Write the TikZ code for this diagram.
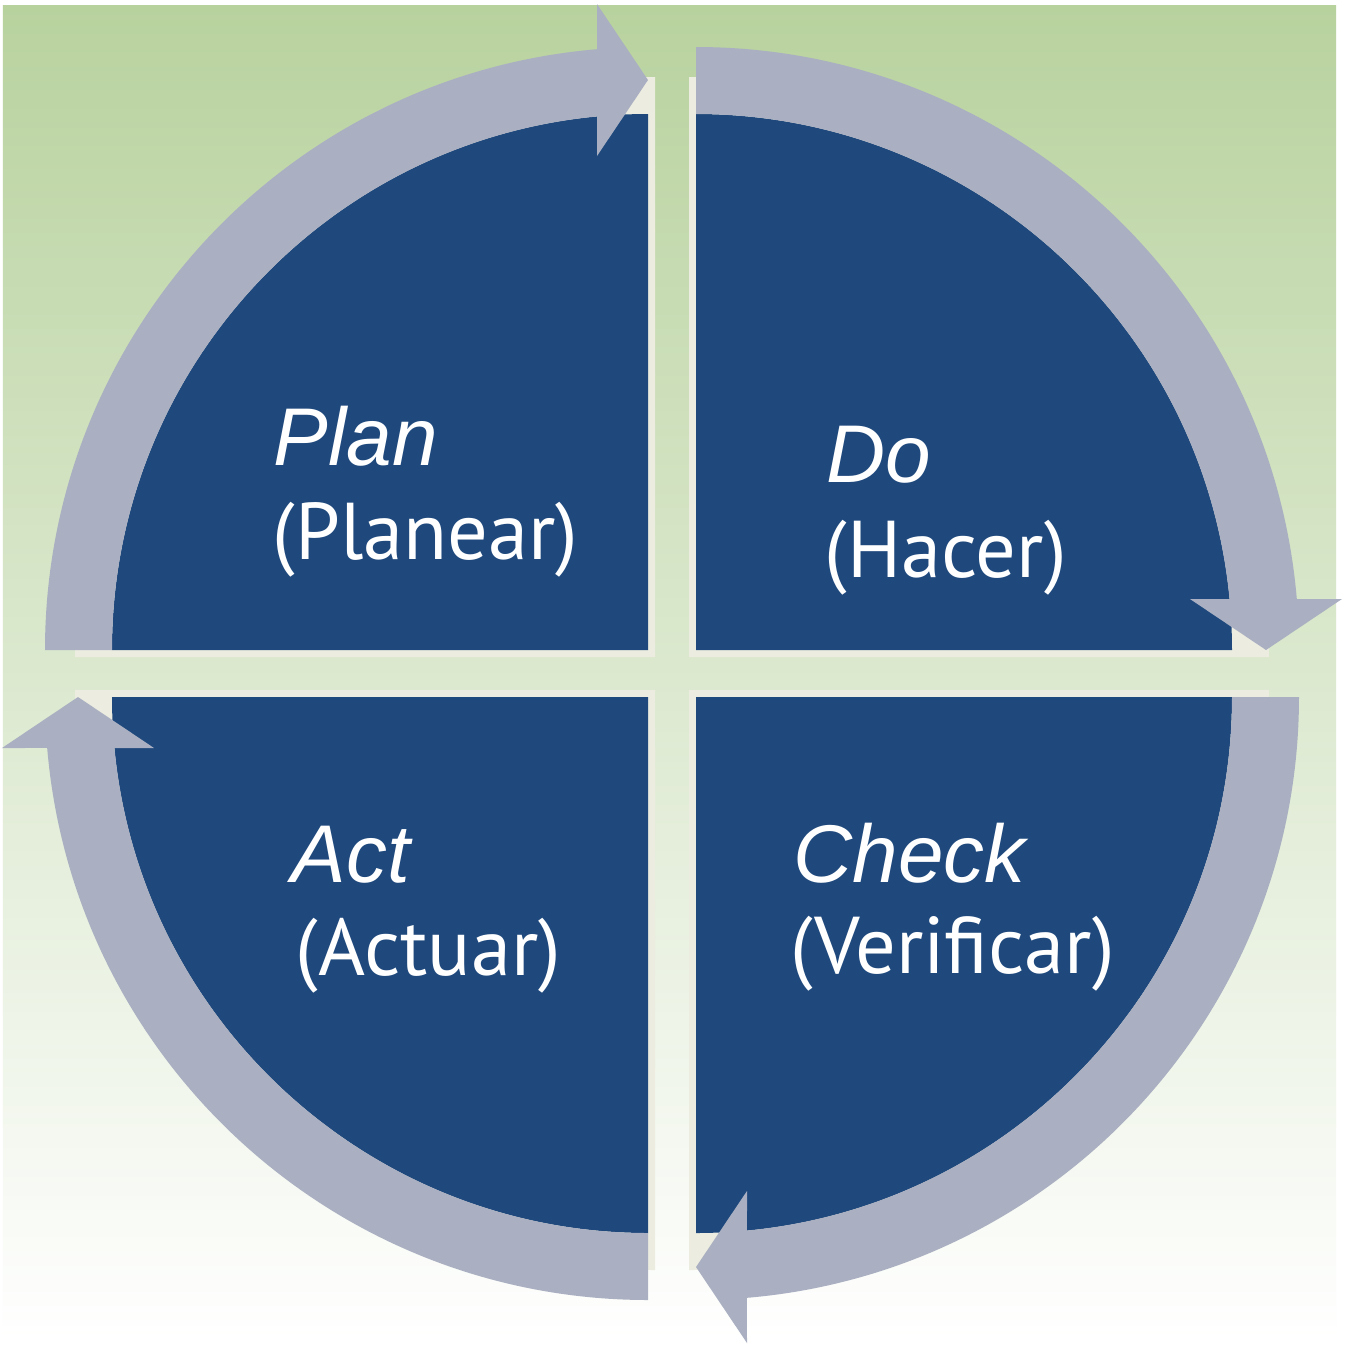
\documentclass[tikz,border=0pt]{standalone}
\usepackage{fontspec}
\newfontfamily\pdcaitfont{Liberation Sans}
\newfontfamily\pdcasubfont{PT Sans}
\definecolor{bgtop}{RGB}{184,210,158}
\definecolor{qblue}{RGB}{31,73,125}
\definecolor{arrowgray}{RGB}{170,176,193}
\definecolor{creamedge}{RGB}{236,237,224}
\tikzset{
  stagename/.style={anchor=base west, inner sep=0pt, text=white, font=\pdcaitfont\itshape\fontsize{23.3pt}{27pt}\selectfont},
  stagesub/.style={anchor=base west, inner sep=0pt, text=white, font=\pdcasubfont\fontsize{22.9pt}{27pt}\selectfont},
}
\begin{document}
\begin{tikzpicture}
\useasboundingbox (0,0) rectangle (13.47,-13.47);
\fill[white] (0,0) rectangle (13.47,-13.47);
\shade[top color=bgtop, bottom color=white] (0.03,-0.05) rectangle (13.36,-13.40);
% cream edges
\foreach \cx/\cy/\rot in {6.48/-6.50/0, 6.96/-6.50/-90, 6.96/-6.97/-180, 6.48/-6.97/-270}{
  \begin{scope}[shift={(\cx,\cy)}, rotate=\rot]
    \fill[creamedge] (0.07,-0.07) -- ++(180:5.80) arc[start angle=180, end angle=90, radius=5.80] -- cycle;
  \end{scope}
}
% quadrants and arrows
\foreach \cx/\cy/\rot in {6.48/-6.50/0, 6.96/-6.50/-90, 6.96/-6.97/-180, 6.48/-6.97/-270}{
  \begin{scope}[shift={(\cx,\cy)}, rotate=\rot]
    \fill[qblue] (0,0) -- (180:5.36) arc[start angle=180, end angle=90, radius=5.36] -- cycle;
    \fill[arrowgray] (180:5.36) -- (180:6.03)
      arc[start angle=180, end angle=94.85, radius=6.03]
      -- (-0.51,6.46) -- (0,5.70) -- (-0.51,4.94) -- (95.46:5.36)
      arc[start angle=95.46, end angle=180, radius=5.36] -- cycle;
  \end{scope}
}
% texts
\node[stagename] (plan) at (2.73,-4.65) {Plan};
\node[stagesub] (planear) at (2.72,-5.59) {(Planear)};
\node[stagename] (do) at (8.26,-4.82) {Do};
\node[stagesub] (hacer) at (8.24,-5.77) {(Hacer)};
\node[stagename] (act) at (2.91,-8.82) {Act};
\node[stagesub] (actuar) at (2.95,-9.75) {(Actuar)};
\node[stagename] (check) at (7.93,-8.82) {Check};
\node[stagesub] (verificar) at (7.90,-9.73) {(Verificar)};
\end{tikzpicture}
\end{document}
